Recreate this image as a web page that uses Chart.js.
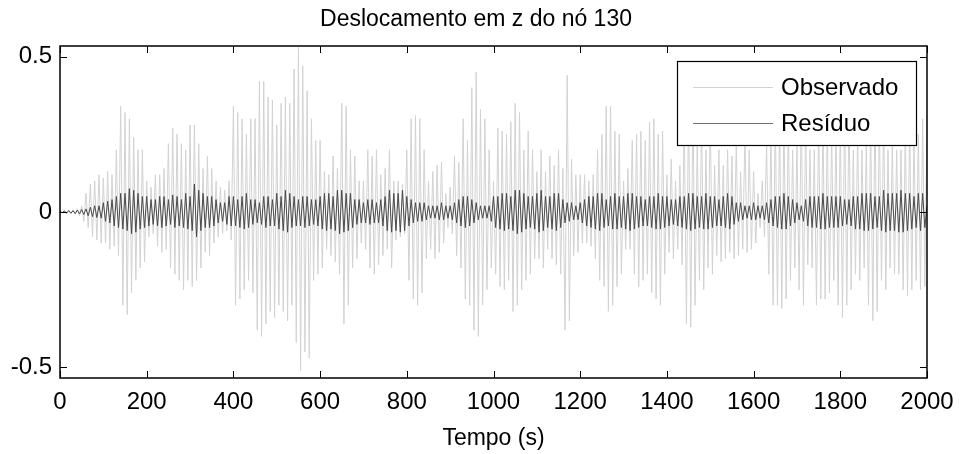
<!DOCTYPE html>
<html><head><meta charset="utf-8">
<script src="https://cdn.jsdelivr.net/npm/chart.js@4"></script>
<style>html,body{margin:0;padding:0;background:#fff;overflow:hidden}</style>
</head><body>
<canvas id="c" width="960" height="454"></canvas>
<script>
const chartTitle = 'Deslocamento em z do nó 130';
const xAxisTitle = 'Tempo (s)';
const seriesNames = ['Observado', 'Resíduo'];
const timeStep = 5; // seconds between samples, starting at t = 0
const xTicks = [0, 200, 400, 600, 800, 1000, 1200, 1400, 1600, 1800, 2000];
const yTicks = [-0.5, 0, 0.5];
const yTickLabels = ['-0.5', '0', '0.5'];

// one row = 100 s (20 samples)
const observed = [
  0.003,-0.003,0.004,-0.005,0.006,-0.006,0.008,-0.007,0.01,-0.012,0.02,-0.03,0.06,-0.05,0.09,-0.08,0.1,-0.09,0.12,-0.1,
  0.11,-0.1,0.13,-0.12,0.12,-0.11,0.2,-0.14,0.34,-0.3,0.32,-0.33,0.3,-0.26,0.24,-0.22,0.2,-0.18,0.2,-0.16,
  0.1,-0.08,0.08,-0.07,0.12,-0.11,0.12,-0.13,0.14,-0.12,0.22,-0.18,0.27,-0.2,0.25,-0.22,0.22,-0.25,0.2,-0.22,
  0.28,-0.24,0.28,-0.22,0.22,-0.18,0.14,-0.13,0.18,-0.14,0.14,-0.1,0.1,-0.08,0.08,-0.07,0.07,-0.06,0.1,-0.09,
  0.34,-0.3,0.32,-0.28,0.3,-0.25,0.25,-0.22,0.3,-0.26,0.3,-0.38,0.42,-0.4,0.42,-0.36,0.37,-0.32,0.36,-0.34,
  0.28,-0.3,0.35,-0.32,0.37,-0.35,0.35,-0.3,0.46,-0.42,0.53,-0.51,0.47,-0.45,0.39,-0.47,0.3,-0.22,0.23,-0.2,
  0.23,-0.18,0.13,-0.12,0.12,-0.14,0.18,-0.16,0.14,-0.2,0.35,-0.36,0.34,-0.3,0.2,-0.18,0.18,-0.15,0.1,-0.1,
  0.1,-0.12,0.2,-0.18,0.18,-0.2,0.2,-0.17,0.12,-0.14,0.14,-0.12,0.2,-0.18,0.1,-0.09,0.1,-0.08,0.09,-0.07,
  0.2,-0.22,0.3,-0.28,0.31,-0.3,0.3,-0.26,0.2,-0.15,0.1,-0.12,0.13,-0.15,0.15,-0.13,0.16,-0.1,0.06,-0.05,
  0.08,-0.07,0.18,-0.14,0.16,-0.18,0.3,-0.28,0.23,-0.3,0.4,-0.38,0.45,-0.4,0.33,-0.3,0.3,-0.25,0.2,-0.18,
  0.1,-0.2,0.27,-0.24,0.26,-0.25,0.25,-0.22,0.29,-0.32,0.35,-0.3,0.32,-0.25,0.2,-0.22,0.26,-0.2,0.2,-0.15,
  0.13,-0.15,0.2,-0.18,0.13,-0.12,0.18,-0.15,0.15,-0.17,0.2,-0.2,0.14,-0.38,0.44,-0.35,0.17,-0.14,0.12,-0.13,
  0.12,-0.1,0.12,-0.1,0.1,-0.11,0.12,-0.15,0.2,-0.22,0.25,-0.24,0.34,-0.32,0.34,-0.3,0.26,-0.24,0.25,-0.2,
  0.1,-0.12,0.14,-0.12,0.23,-0.2,0.25,-0.24,0.26,-0.22,0.23,-0.2,0.29,-0.26,0.3,-0.28,0.25,-0.3,0.26,-0.2,
  0.12,-0.13,0.17,-0.15,0.1,-0.12,0.15,-0.17,0.3,-0.36,0.36,-0.37,0.37,-0.3,0.23,-0.22,0.3,-0.25,0.2,-0.18,
  0.3,-0.2,0.15,-0.14,0.2,-0.16,0.15,-0.15,0.2,-0.13,0.18,-0.15,0.22,-0.14,0.13,-0.12,0.25,-0.13,0.2,-0.12,
  0.13,-0.1,0.06,-0.05,0.1,-0.08,0.22,-0.2,0.25,-0.3,0.32,-0.3,0.3,-0.31,0.31,-0.28,0.3,-0.22,0.2,-0.18,
  0.22,-0.25,0.34,-0.3,0.3,-0.17,0.2,-0.18,0.2,-0.3,0.3,-0.28,0.3,-0.28,0.28,-0.26,0.26,-0.22,0.28,-0.3,
  0.3,-0.34,0.35,-0.3,0.34,-0.25,0.2,-0.2,0.25,-0.22,0.2,-0.18,0.22,-0.3,0.3,-0.35,0.35,-0.32,0.3,-0.22,
  0.3,-0.25,0.2,-0.18,0.22,-0.2,0.2,-0.2,0.2,-0.25,0.28,-0.27,0.28,-0.25,0.25,-0.22,0.25,-0.25,0.3,-0.24,
  0.31
];

const residual = [
  0.003,-0.003,0.004,-0.004,0.005,-0.004,0.004,-0.005,0.006,-0.006,0.008,-0.008,0.01,-0.012,0.015,-0.015,0.02,-0.018,0.02,-0.02,
  0.03,-0.03,0.035,-0.035,0.04,-0.045,0.05,-0.05,0.06,-0.055,0.06,-0.06,0.075,-0.07,0.07,-0.065,0.06,-0.055,0.05,-0.05,
  0.05,-0.045,0.04,-0.04,0.04,-0.045,0.05,-0.05,0.05,-0.045,0.04,-0.04,0.055,-0.05,0.05,-0.045,0.04,-0.05,0.06,-0.055,
  0.05,-0.06,0.09,-0.08,0.07,-0.06,0.06,-0.05,0.05,-0.05,0.05,-0.045,0.04,-0.035,0.03,-0.03,0.03,-0.04,0.05,-0.045,
  0.05,-0.045,0.04,-0.05,0.05,-0.055,0.06,-0.05,0.04,-0.04,0.04,-0.035,0.03,-0.04,0.05,-0.05,0.05,-0.045,0.04,-0.045,
  0.06,-0.055,0.05,-0.06,0.07,-0.065,0.06,-0.05,0.05,-0.045,0.04,-0.045,0.05,-0.05,0.05,-0.045,0.04,-0.04,0.04,-0.045,
  0.05,-0.055,0.06,-0.06,0.06,-0.055,0.05,-0.06,0.07,-0.07,0.07,-0.065,0.06,-0.06,0.06,-0.05,0.04,-0.04,0.04,-0.035,
  0.03,-0.035,0.04,-0.04,0.04,-0.035,0.03,-0.035,0.04,-0.045,0.05,-0.06,0.07,-0.065,0.06,-0.06,0.06,-0.065,0.07,-0.06,
  0.05,-0.045,0.04,-0.035,0.03,-0.03,0.03,-0.03,0.03,-0.025,0.02,-0.02,0.02,-0.02,0.02,-0.025,0.03,-0.025,0.02,-0.02,
  0.02,-0.025,0.03,-0.035,0.04,-0.045,0.05,-0.05,0.05,-0.045,0.04,-0.035,0.03,-0.025,0.02,-0.02,0.02,-0.02,0.02,-0.03,
  0.05,-0.05,0.05,-0.055,0.06,-0.06,0.06,-0.055,0.05,-0.06,0.07,-0.07,0.07,-0.065,0.06,-0.055,0.05,-0.05,0.05,-0.055,
  0.06,-0.065,0.07,-0.06,0.05,-0.05,0.05,-0.055,0.06,-0.06,0.06,-0.05,0.04,-0.035,0.03,-0.03,0.03,-0.025,0.02,-0.025,
  0.03,-0.035,0.04,-0.045,0.05,-0.05,0.05,-0.055,0.06,-0.06,0.06,-0.05,0.04,-0.045,0.05,-0.055,0.06,-0.055,0.05,-0.05,
  0.05,-0.055,0.06,-0.06,0.06,-0.055,0.05,-0.05,0.05,-0.045,0.04,-0.045,0.05,-0.05,0.05,-0.055,0.06,-0.055,0.05,-0.05,
  0.05,-0.045,0.04,-0.04,0.04,-0.045,0.05,-0.05,0.05,-0.055,0.06,-0.06,0.06,-0.055,0.05,-0.05,0.05,-0.055,0.06,-0.055,
  0.05,-0.05,0.05,-0.045,0.04,-0.045,0.05,-0.05,0.06,-0.055,0.05,-0.04,0.03,-0.03,0.03,-0.025,0.02,-0.02,0.02,-0.025,
  0.03,-0.025,0.02,-0.02,0.02,-0.025,0.03,-0.035,0.04,-0.045,0.05,-0.05,0.05,-0.055,0.06,-0.055,0.05,-0.045,0.04,-0.035,
  0.03,-0.025,0.02,-0.03,0.04,-0.045,0.05,-0.05,0.05,-0.05,0.05,-0.055,0.06,-0.055,0.05,-0.05,0.05,-0.05,0.05,-0.05,
  0.05,-0.045,0.04,-0.04,0.04,-0.045,0.05,-0.055,0.05,-0.055,0.06,-0.06,0.06,-0.06,0.06,-0.055,0.05,-0.05,0.05,-0.06,
  0.07,-0.065,0.06,-0.06,0.06,-0.06,0.06,-0.065,0.07,-0.065,0.06,-0.06,0.06,-0.055,0.05,-0.05,0.06,-0.06,0.06,-0.05,
  0.02
];

const FONT = '"Liberation Sans", Arial, sans-serif';
const obsColor = '#d2d2d2';
const resColor = '#4a4a4a';

const toPoints = arr => arr.map((v, i) => ({ x: i * timeStep, y: v }));

const frame = {
  id: 'frame',
  afterDraw(chart) {
    const ctx = chart.ctx, a = chart.chartArea;
    const xs = chart.scales.x, ys = chart.scales.y;
    ctx.save();
    // title
    ctx.fillStyle = '#000';
    ctx.font = '23px ' + FONT;
    ctx.textAlign = 'center';
    ctx.textBaseline = 'middle';
    ctx.fillText(chartTitle, 476, 20);

    ctx.strokeStyle = '#000';
    ctx.lineWidth = 1;
    const tl = 7;
    ctx.beginPath();
    xTicks.forEach(t => {
      const px = Math.round(xs.getPixelForValue(t)) + 0.5;
      ctx.moveTo(px, a.bottom); ctx.lineTo(px, a.bottom - tl);
      ctx.moveTo(px, a.top); ctx.lineTo(px, a.top + tl);
    });
    yTicks.forEach(t => {
      const py = Math.round(ys.getPixelForValue(t)) + 0.5;
      ctx.moveTo(a.left, py); ctx.lineTo(a.left + tl, py);
      ctx.moveTo(a.right, py); ctx.lineTo(a.right - tl, py);
    });
    ctx.stroke();
    ctx.lineWidth = 1.5;
    ctx.strokeRect(a.left, a.top, a.right - a.left, a.bottom - a.top);

    // legend (opaque, on top of the data)
    const bx = 677, by = 61, bw = 239, bh = 84;
    ctx.fillStyle = '#fff';
    ctx.fillRect(bx, by, bw, bh);
    ctx.lineWidth = 1.2;
    ctx.strokeRect(bx + 0.5, by + 0.5, bw, bh);
    const rows = [[seriesNames[0], obsColor, 87], [seriesNames[1], '#707070', 123]];
    ctx.font = '24px ' + FONT;
    ctx.textBaseline = 'middle';
    ctx.textAlign = 'left';
    rows.forEach(([name, col, y]) => {
      ctx.strokeStyle = col; ctx.lineWidth = 1;
      ctx.beginPath(); ctx.moveTo(693, y + 0.5); ctx.lineTo(773, y + 0.5); ctx.stroke();
      ctx.fillStyle = '#000';
      ctx.fillText(name, 781, y + 1);
    });
    ctx.restore();
  }
};

new Chart(document.getElementById('c'), {
  type: 'line',
  data: {
    datasets: [
      { label: seriesNames[1], data: toPoints(residual), borderColor: resColor, borderWidth: 1, pointRadius: 0, tension: 0, order: 0 },
      { label: seriesNames[0], data: toPoints(observed), borderColor: obsColor, borderWidth: 1, pointRadius: 0, tension: 0, order: 1 }
    ]
  },
  options: {
    responsive: false,
    devicePixelRatio: 1,
    animation: false,
    layout: { padding: { left: 0, right: 33, top: 46, bottom: 0 } },
    plugins: {
      legend: { display: false },
      tooltip: { enabled: false },
      title: { display: false }
    },
    scales: {
      x: {
        type: 'linear', min: 0, max: 2000,
        afterBuildTicks: s => { s.ticks = xTicks.map(v => ({ value: v })); },
        afterFit: s => { s.height = 76; s.paddingLeft = 0; s.paddingRight = 0; },
        grid: { display: false, drawTicks: false },
        border: { display: false },
        ticks: { color: '#000', font: { family: FONT, size: 24 }, padding: 10, maxRotation: 0, autoSkip: false,
          callback: v => String(v) },
        title: { display: true, text: xAxisTitle, color: '#000', font: { family: FONT, size: 23 }, padding: { top: 0, bottom: 2 } }
      },
      y: {
        min: -0.534, max: 0.534,
        afterBuildTicks: s => { s.ticks = yTicks.map(v => ({ value: v })); },
        afterFit: s => { s.width = 60; s.paddingTop = 0; s.paddingBottom = 0; },
        grid: { display: false, drawTicks: false },
        border: { display: false },
        ticks: { color: '#000', font: { family: FONT, size: 24 }, padding: 8,
          callback: v => yTickLabels[yTicks.indexOf(v)] }
      }
    }
  },
  plugins: [frame]
});
</script>
</body></html>
